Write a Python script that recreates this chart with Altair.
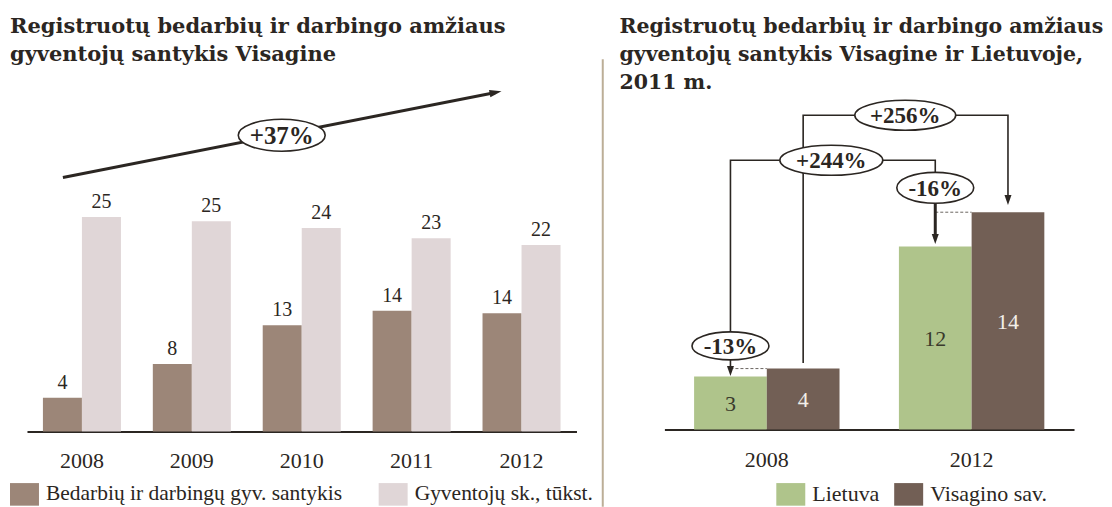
import altair as alt
import pandas as pd

# ---------------- data ----------------
years = ["2008", "2009", "2010", "2011", "2012"]
ratio_values = [4.0, 8.0, 12.6, 14.3, 14.0]
population_values = [25.4, 24.9, 24.1, 22.9, 22.1]
left_series = ["Bedarbių ir darbingų gyv. santykis", "Gyventojų sk., tūkst."]
left_change = "+37%"

right_years = ["2008", "2012"]
lietuva_values = [3.4, 11.7]
visaginas_values = [3.9, 13.9]
right_series = ["Lietuva", "Visagino sav."]
right_changes = ["-13%", "-16%", "+244%", "+256%"]

left_title = ["Registruotų bedarbių ir darbingo amžiaus", "gyventojų santykis Visagine"]
right_title = ["Registruotų bedarbių ir darbingo amžiaus",
               "gyventojų santykis Visagine ir Lietuvoje,", "2011 m."]

# ---------------- style / layout ----------------
BROWN, LIGHT, GREEN, DARK = "#9c8678", "#e0d6d7", "#afc48b", "#725f55"
INK, SEP, DASH = "#2b2622", "#bcae97", "#6a6560"
SERIF, TFONT = "Liberation Serif", "DejaVu Serif"
T = 59                      # plot top (page px)
LX, RX = 27, 665            # plot left edges (page px)
LW, RW = 550, 410
LH, RH = 431.7 - T, 429.7 - T
L_PX, R_PX = 8.45, 15.65
PI = 0.29
SWATCH = "M -1 -0.78 L 1 -0.78 L 1 0.78 L -1 0.78 Z"

yL = alt.Scale(domain=[0, LH / L_PX], nice=False, zero=True)
yR = alt.Scale(domain=[0, RH / R_PX], nice=False, zero=True)
axL = alt.Scale(domain=[0, 5], nice=False, zero=False)
axR = alt.Scale(domain=[0, 2], nice=False, zero=False)
one = pd.DataFrame({"k": [0]})


def ellipse_path(w, h):
    r = h / w
    k = 0.5523
    return (f"M -1 0 C -1 {-k*r:.4f} {-k:.4f} {-r:.4f} 0 {-r:.4f} "
            f"C {k:.4f} {-r:.4f} 1 {-k*r:.4f} 1 0 "
            f"C 1 {k*r:.4f} {k:.4f} {r:.4f} 0 {r:.4f} "
            f"C {-k:.4f} {r:.4f} -1 {k*r:.4f} -1 0 Z")


HEAD_DOWN = "M 0 1 L -0.7 -1 L 0.7 -1 Z"
HEAD_RIGHT = "M 1 0 L -1 -0.6 L -1 0.6 Z"


def bubble(label, x, y, w, h, xs, ys, fs):
    d = pd.DataFrame({"ax": [x], "ay": [y], "label": [label]})
    enc = dict(x=alt.X("ax:Q", scale=xs, axis=None), y=alt.Y("ay:Q", scale=ys, axis=None))
    e = alt.Chart(d).mark_point(shape=ellipse_path(w, h), size=w * w, filled=True,
                                fill="white", stroke=INK, strokeWidth=1.6,
                                opacity=1, fillOpacity=1, strokeOpacity=1).encode(**enc)
    t = alt.Chart(d).mark_text(font=SERIF, fontWeight="bold", fontSize=fs, color=INK,
                               baseline="middle", dy=1).encode(text="label:N", **enc)
    return [e, t]


def title_mark(lines, x_px, fs):
    return alt.Chart(one).mark_text(
        align="left", baseline="alphabetic", font=TFONT, fontWeight="bold", fontSize=fs,
        lineHeight=28, color=INK).encode(
        x=alt.value(x_px), y=alt.value(33 - T), text=alt.value(lines))


def legend(x_off, fs, pad):
    return alt.Legend(title=None, orient="none", legendX=x_off, legendY=480 - T,
                      direction="horizontal", symbolType=SWATCH, symbolSize=841,
                      symbolStrokeWidth=0, labelFont=SERIF, labelFontSize=fs,
                      labelColor=INK, labelLimit=500, labelOffset=7,
                      columnPadding=pad, padding=0)


def x_axis(fs, pad):
    return alt.Axis(title=None, labelAngle=0, labelFont=SERIF, labelFontSize=fs,
                    labelColor=INK, labelBaseline="alphabetic", labelPadding=pad,
                    ticks=False, domainColor=INK, domainWidth=2, grid=False)


def offset(series):
    return alt.XOffset("series:N", sort=series,
                       scale=alt.Scale(type="band", domain=series, paddingInner=0, paddingOuter=0))


# ---------------- left panel ----------------
left_df = pd.DataFrame({
    "year": years * 2,
    "series": [left_series[0]] * 5 + [left_series[1]] * 5,
    "value": ratio_values + population_values,
})
xband_L = alt.Scale(paddingInner=PI, paddingOuter=PI / 2)

bars_L = alt.Chart(left_df).mark_bar(width=alt.RelativeBandSize(1)).encode(
    x=alt.X("year:N", sort=years, scale=xband_L, axis=x_axis(22, 36)),
    xOffset=offset(left_series),
    y=alt.Y("value:Q", scale=yL, axis=None),
    color=alt.Color("series:N", sort=left_series,
                    scale=alt.Scale(domain=left_series, range=[BROWN, LIGHT]),
                    legend=legend(10 - LX, 21.5, 36)),
)
labels_L = alt.Chart(left_df).mark_text(font=SERIF, fontSize=20, color=INK,
                                        baseline="alphabetic", dy=-9).encode(
    x=alt.X("year:N", sort=years, scale=xband_L, axis=None),
    xOffset=offset(left_series),
    y=alt.Y("value:Q", scale=yL, axis=None),
    text=alt.Text("value:Q", format=".0f"),
)
arrow_L = alt.Chart(pd.DataFrame({"ax": [0.327, 4.264], "ay": [30.1, 40.16]})).mark_line(
    color=INK, strokeWidth=3).encode(
    x=alt.X("ax:Q", scale=axL, axis=None), y=alt.Y("ay:Q", scale=yL, axis=None))
head_L = alt.Chart(pd.DataFrame({"ax": [4.264], "ay": [40.16]})).mark_point(
    shape=HEAD_RIGHT, size=144, filled=True, color=INK, opacity=1, angle=349).encode(
    x=alt.X("ax:Q", scale=axL, axis=None), y=alt.Y("ay:Q", scale=yL, axis=None))
anchor = alt.Chart(one).mark_rule(opacity=0, strokeOpacity=0).encode(
    x=alt.value(8 - LX), y=alt.value(8 - T), y2=alt.value(9 - T))

left = alt.layer(
    bars_L, labels_L, arrow_L, head_L,
    *bubble(left_change, 2.318, 35.1, 87, 32, axL, yL, 25),
    title_mark(left_title, 10 - LX, 21), anchor,
).resolve_scale(x="independent", xOffset="independent").properties(width=LW, height=LH)

# ---------------- right panel ----------------
right_df = pd.DataFrame({
    "year": right_years * 2,
    "series": [right_series[0]] * 2 + [right_series[1]] * 2,
    "value": lietuva_values + visaginas_values,
})
xband_R = alt.Scale(paddingInner=PI, paddingOuter=PI / 2)

bars_R = alt.Chart(right_df).mark_bar(width=alt.RelativeBandSize(1)).encode(
    x=alt.X("year:N", sort=right_years, scale=xband_R, axis=x_axis(22, 37)),
    xOffset=offset(right_series),
    y=alt.Y("value:Q", scale=yR, axis=None),
    color=alt.Color("series:N", sort=right_series,
                    scale=alt.Scale(domain=right_series, range=[GREEN, DARK]),
                    legend=legend(777 - RX, 22, 14)),
)


def inner_labels(series, col):
    return alt.Chart(right_df).transform_filter(alt.datum.series == series).transform_calculate(
        mid="datum.value / 2").mark_text(font=SERIF, fontSize=22, color=col,
                                         baseline="middle", dy=1).encode(
        x=alt.X("year:N", sort=right_years, scale=xband_R, axis=None),
        xOffset=offset(right_series),
        y=alt.Y("mid:Q", scale=yR, axis=None),
        text=alt.Text("value:Q", format=".0f"),
    )


D = (1 - PI) / 4
g08, v08, g12, v12 = 0.5 - D, 0.5 + D, 1.5 - D, 1.5 + D
conn = pd.DataFrame([
    ("p256", 0, v08, 4.26), ("p256", 1, v08, 20.1), ("p256", 2, v12, 20.1), ("p256", 3, v12, 14.68),
    ("p244", 0, g08, 6.22), ("p244", 1, g08, 17.22), ("p244", 2, g12, 17.22), ("p244", 3, g12, 16.45),
    ("m13", 0, g08, 4.45), ("m13", 1, g08, 3.75),
], columns=["path", "seq", "ax", "ay"])
conn_R = alt.Chart(conn).mark_line(color=INK, strokeWidth=1.6, strokeJoin="miter").encode(
    x=alt.X("ax:Q", scale=axR, axis=None), y=alt.Y("ay:Q", scale=yR, axis=None),
    detail="path:N", order="seq:Q")
conn16 = alt.Chart(pd.DataFrame({"ax": [g12, g12], "ay": [14.49, 12.19]})).mark_line(
    color=INK, strokeWidth=3).encode(
    x=alt.X("ax:Q", scale=axR, axis=None), y=alt.Y("ay:Q", scale=yR, axis=None))
dash = pd.DataFrame([
    ("a", g08, visaginas_values[0]), ("a", 0.5, visaginas_values[0]),
    ("b", g12, visaginas_values[1]), ("b", 1.5, visaginas_values[1]),
], columns=["path", "ax", "ay"])
dash_R = alt.Chart(dash).mark_line(color=DASH, strokeWidth=1, strokeDash=[3, 2]).encode(
    x=alt.X("ax:Q", scale=axR, axis=None), y=alt.Y("ay:Q", scale=yR, axis=None), detail="path:N")
heads = pd.DataFrame({"ax": [v12, g12, g08], "ay": [14.68, 12.19, 3.75]})
heads_R = alt.Chart(heads).mark_point(shape=HEAD_DOWN, size=100, filled=True, color=INK,
                                      opacity=1).encode(
    x=alt.X("ax:Q", scale=axR, axis=None), y=alt.Y("ay:Q", scale=yR, axis=None))
sep = alt.Chart(one).mark_rule(color=SEP, strokeWidth=2).encode(
    x=alt.value(603.3 - RX), y=alt.value(0), y2=alt.value(507 - T))

right = alt.layer(
    bars_R, inner_labels(right_series[0], "#3a3a2c"), inner_labels(right_series[1], "#f3efe9"),
    dash_R, conn_R, conn16, heads_R,
    *bubble(right_changes[3], 1.176, 20.1, 101, 30, axR, yR, 23),
    *bubble(right_changes[2], 0.815, 17.22, 103, 30, axR, yR, 23),
    *bubble(right_changes[1], g12, 15.46, 77, 31, axR, yR, 23),
    *bubble(right_changes[0], g08, 5.35, 77, 28, axR, yR, 23),
    sep, title_mark(right_title, 620 - RX, 20.5),
).resolve_scale(x="independent", xOffset="independent").properties(width=RW, height=RH)

chart = alt.hconcat(left, right, spacing=RX - (LX + LW), bounds="flush").resolve_scale(
    color="independent", x="independent", y="independent"
).properties(
    padding={"left": 0, "top": 0, "right": 0, "bottom": 0}, background="white"
).configure_view(stroke=None)

chart.save("out.html", embed_options={"renderer": "svg", "actions": False})
